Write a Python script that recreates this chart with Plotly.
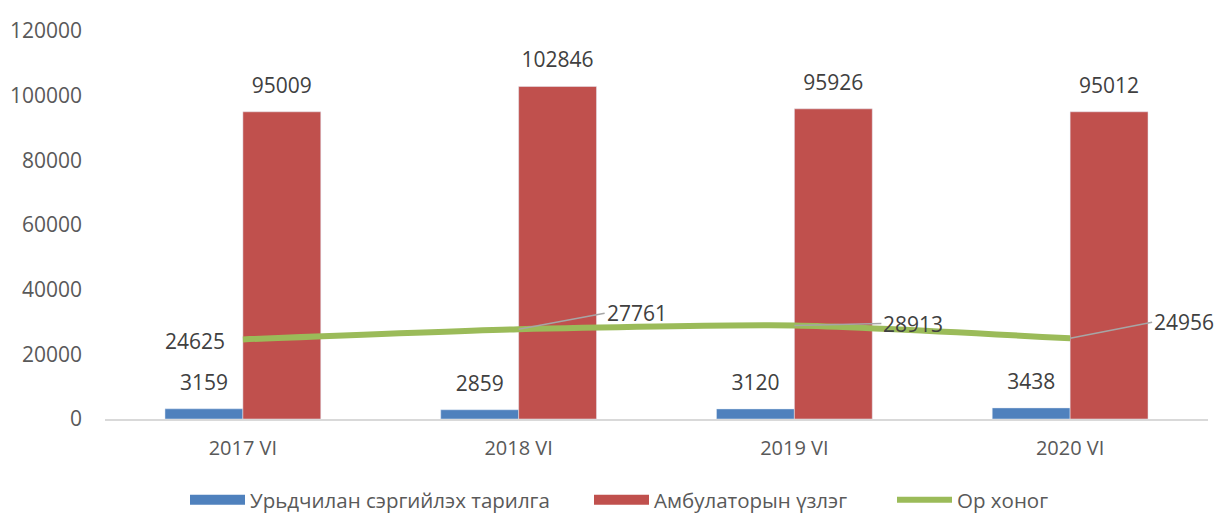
import plotly.graph_objects as go

categories = ["2017 VI", "2018 VI", "2019 VI", "2020 VI"]
vaccination = [3159, 2859, 3120, 3438]
outpatient = [95009, 102846, 95926, 95012]
bed_days = [24625, 27761, 28913, 24956]
y_ticks = [0, 20000, 40000, 60000, 80000, 100000, 120000]
y_tick_text = [str(v) for v in y_ticks]

names = ["Урьдчилан сэргийлэх тарилга", "Амбулаторын үзлэг", "Ор хоног"]
colors = ["#4F81BD", "#C0504D", "#9BBB59"]

FONT = "Open Sans"
LBL = "#404040"
AX = "#595959"
W, H = 1217, 514

def bar_label(v):
    # number in 21px, with a small spacer line below to lift it off the bar
    return f"<span style='font-size:21px'>{v}</span><br> "

fig = go.Figure()
fig.add_trace(go.Bar(x=categories, y=vaccination, name=names[0], marker_color=colors[0],
                     text=[bar_label(v) for v in vaccination], textposition="outside",
                     textfont=dict(size=10, color=LBL), cliponaxis=False,
                     constraintext="none", legendgroup="a", showlegend=False))
fig.add_trace(go.Bar(x=categories, y=outpatient, name=names[1], marker_color=colors[1],
                     text=[bar_label(v) for v in outpatient], textposition="outside",
                     textfont=dict(size=10, color=LBL), cliponaxis=False,
                     constraintext="none", legendgroup="b", showlegend=False))
fig.add_trace(go.Scatter(x=categories, y=bed_days, name=names[2], mode="lines",
                         line=dict(color=colors[2], width=6, shape="spline", smoothing=0.6),
                         legend="legend3"))
# legend entries for the bar series (wide swatches like the original)
fig.add_trace(go.Scatter(x=[None], y=[None], mode="lines", name=names[0], legendgroup="a",
                         line=dict(color=colors[0], width=14), legend="legend"))
fig.add_trace(go.Scatter(x=[None], y=[None], mode="lines", name=names[1], legendgroup="b",
                         line=dict(color=colors[1], width=14), legend="legend2"))

# line data labels (with leader lines like the original)
offsets = [None, (86, -16), (87, -2), (82, -16)]
for i, (c, v) in enumerate(zip(categories, bed_days)):
    if offsets[i] is None:
        fig.add_annotation(x=c, y=v, text=str(v), showarrow=False, xanchor="right",
                           xshift=-16, yshift=-2, font=dict(size=21, color=LBL))
    else:
        ax, ay = offsets[i]
        fig.add_annotation(x=c, y=v, text=str(v), showarrow=True, arrowhead=0,
                           arrowwidth=1.5, arrowcolor="#A6A6A6", ax=ax, ay=ay,
                           xanchor="left", yanchor="middle", standoff=0,
                           font=dict(size=21, color=LBL))

def leg(xpix):
    return dict(orientation="h", xref="container", yref="container", x=xpix / W,
                xanchor="left", y=14 / H, yanchor="middle",
                font=dict(size=20.5, color=AX), itemwidth=55, bgcolor="rgba(0,0,0,0)")

fig.update_layout(
    width=W, height=H,
    margin=dict(l=105, r=9, t=31, b=95),
    plot_bgcolor="white", paper_bgcolor="white",
    font=dict(family=FONT, size=20, color=AX),
    barmode="group", bargap=0.435, bargroupgap=0,
    showlegend=True,
    legend=leg(185), legend2=leg(589), legend3=leg(892),
    xaxis=dict(showline=True, linecolor="#D9D9D9", linewidth=1.5, ticks="",
               tickfont=dict(size=20, color=AX), showgrid=False, ticklabelstandoff=10,
               autorange=False, range=[-0.5, len(categories) - 0.5]),
    yaxis=dict(range=[0, 120000], tickvals=y_ticks, ticktext=y_tick_text, showgrid=False,
               zeroline=False, showline=False, ticks="", tickfont=dict(size=21, color=AX),
               ticklabelstandoff=22),
)
fig.write_html("out.html", config={"displayModeBar": False},
               post_script="document.body.style.margin='0';")
